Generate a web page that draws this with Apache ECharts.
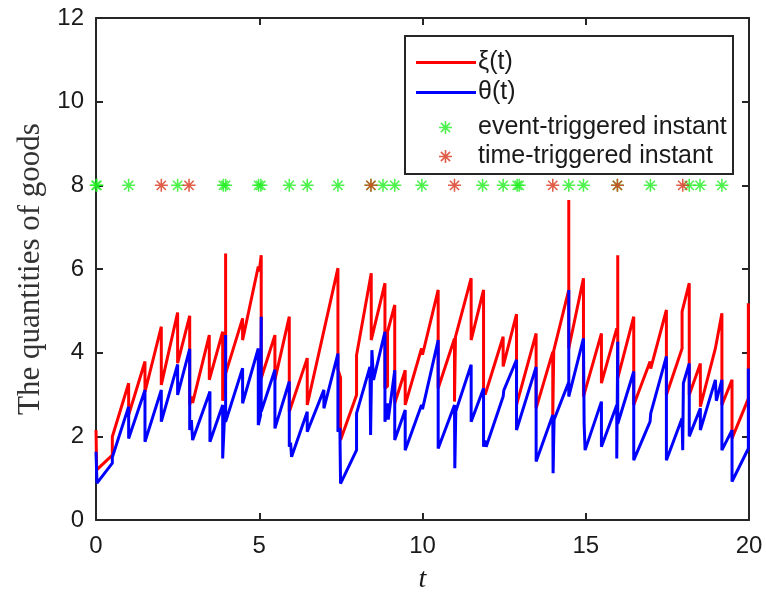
<!doctype html>
<html lang="en">
<head>
    <meta charset="UTF-8">
    <title>The quantities of goods</title>
    <script src="https://cdn.jsdelivr.net/npm/echarts@6/dist/echarts.min.js"></script>
    <style>
        html, body { margin: 0; padding: 0; background: #fff; }
        #chart { width: 766px; height: 599px; }
    </style>
</head>
<body>
<div id="chart"></div>
<script>
    // ξ(t) trajectory, [t, value]
    var xiPts = [
        [0, 2.15], [0.02, 1.2], [0.5, 1.55], [0.5, 1.99], [1, 3.27], [1, 2.51], [1.5, 3.79], [1.5, 3.06],
        [2, 4.62], [2, 3.23], [2.5, 4.96], [2.5, 3.75], [2.87, 4.88], [2.87, 2.75], [2.93, 2.95], [2.96, 2.8],
        [3.47, 4.42], [3.47, 3.35], [3.88, 4.5], [3.88, 2.85], [3.97, 3.4], [3.97, 6.37], [3.97, 3.5],
        [4.49, 4.82], [4.49, 4.3], [4.97, 6.06], [5.0, 5.94], [5.06, 6.33], [5.06, 3.39], [5.48, 4.42], [5.48, 3.35],
        [5.92, 4.86], [5.92, 2.59], [6.47, 3.87], [6.47, 2.75], [7.41, 6.02], [7.41, 3.6], [7.49, 3.4], [7.49, 1.91],
        [7.98, 2.99], [7.98, 3.94], [8.43, 5.9], [8.43, 4.3], [8.85, 5.66], [8.85, 3.15], [8.93, 3.2], [8.93, 4.5],
        [9.15, 5.14], [9.15, 2.79], [9.47, 3.58], [9.47, 2.75], [9.97, 4.1], [10.0, 3.95], [10.48, 5.5], [10.48, 3.15],
        [10.98, 4.34], [10.98, 2.83], [11.01, 4.38], [11.49, 5.78], [11.49, 4.3], [11.87, 5.5], [11.87, 3.07], [11.92, 3.0],
        [12.47, 4.38], [12.47, 3.67], [12.88, 4.92], [12.88, 2.75], [13.48, 4.46], [13.48, 2.67], [13.99, 4.02], [13.99, 2.47],
        [14.02, 4.05], [14.48, 5.5], [14.48, 7.65], [14.48, 4.1], [14.93, 5.78], [14.93, 2.95], [15.48, 4.46], [15.48, 3.27],
        [15.95, 4.58], [15.98, 4.45], [15.98, 6.33], [15.98, 3.39], [16.47, 4.86], [16.47, 2.75], [16.97, 3.79], [16.99, 3.62],
        [17.47, 5.02], [17.47, 2.99], [17.95, 4.1], [17.95, 4.98], [18.17, 5.66], [18.17, 2.99], [18.51, 3.74], [18.51, 2.71],
        [18.97, 4.1], [19.17, 4.94], [19.17, 2.75], [19.48, 3.35], [19.48, 1.95], [19.98, 2.9], [19.98, 5.18]
    ];
    // θ(t) trajectory, [t, value]
    var thetaPts = [
        [0, 1.63], [0.03, 0.88], [0.5, 1.36], [0.5, 1.5], [1, 2.71], [1, 1.95], [1.5, 3.11], [1.5, 1.87],
        [2, 3.11], [2, 2.35], [2.5, 3.72], [2.5, 2.99], [2.87, 4.09], [2.87, 2.15], [2.92, 2.39], [2.96, 1.91],
        [3.49, 3.07], [3.49, 1.87], [3.88, 2.75], [3.88, 1.47], [3.93, 2.35], [3.97, 2.45], [3.97, 4.42], [3.97, 2.35],
        [4.49, 3.63], [4.49, 2.79], [4.97, 4.1], [4.97, 2.27], [5.04, 2.5], [5.06, 4.86], [5.06, 2.59], [5.48, 3.59],
        [5.48, 2.19], [5.92, 3.31], [5.92, 1.75], [5.96, 1.85], [5.99, 1.51], [6.47, 2.59], [6.47, 2.11], [6.98, 3.11],
        [6.98, 2.67], [7.41, 3.98], [7.41, 2.11], [7.47, 2.2], [7.49, 0.87], [7.98, 1.67], [7.98, 2.55], [8.39, 3.66],
        [8.41, 2.03], [8.45, 4.06], [8.5, 3.35], [8.85, 4.5], [8.85, 2.35], [8.92, 2.79], [8.95, 2.4], [9.15, 3.58],
        [9.15, 1.91], [9.47, 2.63], [9.47, 1.67], [9.97, 2.75], [10.0, 2.65], [10.48, 4.3], [10.48, 1.71], [10.98, 2.75],
        [10.99, 1.24], [11.02, 2.6], [11.49, 3.71], [11.49, 2.35], [11.87, 3.15], [11.87, 1.75], [11.91, 1.9], [11.95, 1.75],
        [12.47, 2.95], [12.49, 3.1], [12.88, 3.83], [12.88, 2.15], [13.48, 3.66], [13.48, 1.4], [13.99, 2.51], [14.0, 1.12],
        [14.03, 2.4], [14.48, 3.3], [14.48, 5.5], [14.48, 2.95], [14.93, 4.34], [14.95, 2.31], [14.98, 2.35], [14.98, 1.67],
        [15.48, 2.83], [15.48, 1.75], [15.95, 2.75], [15.95, 1.47], [15.98, 4.26], [15.98, 2.3], [16.47, 3.55], [16.47, 1.43],
        [16.97, 2.35], [16.99, 2.55], [17.47, 3.91], [17.47, 1.43], [17.95, 2.43], [17.97, 1.67], [17.99, 3.27], [18.17, 3.74],
        [18.17, 2.0], [18.51, 2.67], [18.51, 2.15], [18.97, 3.35], [19.0, 2.85], [19.17, 3.35], [19.17, 1.67], [19.48, 2.15],
        [19.48, 0.92], [19.98, 1.71], [19.98, 3.62]
    ];
    // trigger instants (markers drawn at level 8)
    var eventT = [0, 0.03, 1.0, 2.5, 3.9, 3.97, 4.98, 5.05, 5.92, 6.47, 7.41, 8.42, 8.79, 9.15, 9.98,
        11.84, 12.47, 12.9, 12.96, 14.48, 14.93, 15.97, 16.98, 18.17, 18.5, 19.17];
    var timeT = [2.0, 2.85, 8.42, 10.98, 13.99, 15.97, 17.97];
    var markLevel = 8;
    var xTicks = { min: 0, max: 20, step: 5 };
    var yTicks = { min: 0, max: 12, step: 2 };

    // MATLAB style '*' marker
    var star = 'path://M0 8.8H20V11.2H0Z M8.8 0H11.2V20H8.8Z M2.05 3.75L3.75 2.05L17.95 16.25L16.25 17.95Z M16.25 2.05L17.95 3.75L3.75 17.95L2.05 16.25Z';
    var axisCol = '#262626';
    var sans = '"Liberation Sans", Arial, sans-serif';
    var serif = '"Liberation Serif", "DejaVu Serif", serif';

    function axisBase(pos, t, showLabel) {
        return {
            type: 'value', position: pos, min: t.min, max: t.max, interval: t.step,
            axisLine: { show: true, onZero: false, lineStyle: { color: axisCol, width: 2 } },
            axisTick: { show: true, inside: true, length: 7, lineStyle: { color: axisCol, width: 2 } },
            axisLabel: { show: showLabel, color: '#1a1a1a', fontFamily: sans, fontSize: 24 },
            splitLine: { show: false }
        };
    }

    var xBottom = axisBase('bottom', xTicks, true);
    xBottom.axisLabel.margin = 14;
    xBottom.name = 't';
    xBottom.nameLocation = 'middle';
    xBottom.nameGap = 46;
    xBottom.nameTextStyle = { fontFamily: serif, fontStyle: 'italic', fontSize: 28, color: '#1a1a1a' };
    var xTop = axisBase('top', xTicks, false);

    var yLeft = axisBase('left', yTicks, true);
    yLeft.axisLabel.margin = 12;
    yLeft.name = 'The quantities of goods';
    yLeft.nameLocation = 'middle';
    yLeft.nameGap = 50;
    yLeft.nameTextStyle = { fontFamily: serif, fontSize: 31, color: '#333' };
    var yRight = axisBase('right', yTicks, false);

    var chart = echarts.init(document.getElementById('chart'), null, { renderer: 'canvas' });
    chart.setOption({
        animation: false,
        backgroundColor: '#fff',
        grid: { left: 96, right: 17, top: 18, bottom: 79, containLabel: false },
        xAxis: [xBottom, xTop],
        yAxis: [yLeft, yRight],
        legend: [{
            orient: 'vertical', left: 411, top: 45, itemWidth: 60, itemHeight: 3, itemGap: 5,
            icon: 'rect',
            data: ['ξ(t)', 'θ(t)'],
            textStyle: { fontFamily: sans, fontSize: 25, color: '#1a1a1a', padding: [0, 0, 0, -3] }
        }, {
            orient: 'vertical', left: 434, top: 110, itemWidth: 13, itemHeight: 13, itemGap: 4,
            data: ['event-triggered instant', 'time-triggered instant'],
            textStyle: { fontFamily: sans, fontSize: 25, color: '#1a1a1a', padding: [0, 0, 0, 21] }
        }],
        graphic: [{
            type: 'rect', left: 404, top: 35, z: 0,
            shape: { width: 328, height: 138 },
            style: { fill: '#fff', stroke: axisCol, lineWidth: 2 }
        }],
        series: [{
            name: 'ξ(t)', type: 'line', data: xiPts, symbol: 'none', z: 3,
            lineStyle: { color: '#ff0000', width: 3 }, itemStyle: { color: '#ff0000' }
        }, {
            name: 'θ(t)', type: 'line', data: thetaPts, symbol: 'none', z: 4,
            lineStyle: { color: '#0000ff', width: 3 }, itemStyle: { color: '#0000ff' }
        }, {
            name: 'event-triggered instant', type: 'scatter', symbol: star, symbolSize: 13, z: 5,
            itemStyle: { color: '#22ee22' },
            data: eventT.map(function (t) { return [t, markLevel]; })
        }, {
            name: 'time-triggered instant', type: 'scatter', symbol: star, symbolSize: 13, z: 6,
            itemStyle: { color: '#d8361c' },
            data: timeT.map(function (t) { return [t, markLevel]; })
        }]
    });
</script>
</body>
</html>
